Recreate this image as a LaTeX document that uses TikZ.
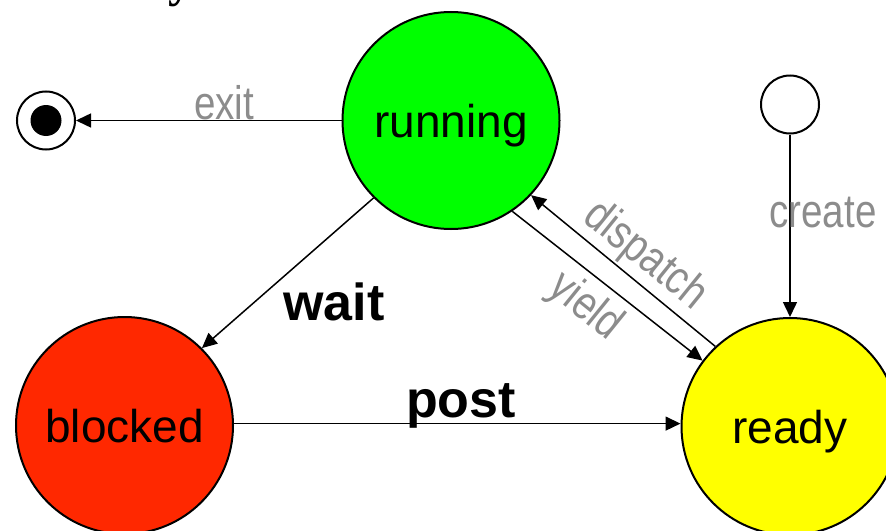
\documentclass[tikz,border=0pt]{standalone}
\usepackage{fontspec}
\usepackage{graphicx}
\setmainfont{Liberation Sans}
\newfontfamily\titlefont{Liberation Serif}
\usetikzlibrary{arrows.meta}

\definecolor{runcol}{RGB}{0,255,0}
\definecolor{blockcol}{RGB}{255,40,0}
\definecolor{readycol}{RGB}{255,255,0}
\definecolor{evgray}{RGB}{140,140,140}

\begin{document}
\begin{tikzpicture}[x=1pt,y=-1pt,
  state/.style={circle,draw=black,line width=2pt,minimum size=217pt,inner sep=0pt,
    text height=33pt,text depth=0pt,font=\fontsize{46}{46}\selectfont},
  pseudo/.style={circle,draw=black,line width=2pt,fill=white,minimum size=58pt,inner sep=0pt},
  trans/.style={line width=1.5pt,-{Triangle[length=15pt,width=14pt]}},
  evlabel/.style={text=evgray,font=\fontsize{47}{47}\selectfont,inner sep=0pt},
  boldlabel/.style={font=\fontsize{52}{52}\selectfont\bfseries,inner sep=0pt},
]
\useasboundingbox (0,0) rectangle (886,530);

% tail of the heading above the diagram
\node[anchor=base west,inner sep=0pt,font=\titlefont\fontsize{48}{48}\selectfont\bfseries]
  (heading) at (168,-3.5) {y};

% states
\node[state,fill=runcol]   (running) at (451,120.5) {running};
\node[state,fill=blockcol] (blocked) at (124.5,425.5) {blocked};
\node[state,fill=readycol] (ready)   at (790,426.5) {ready};

% initial and final pseudo-states
\node[pseudo] (init)  at (790,104.5) {};
\node[pseudo] (final) at (46,120.5) {};
\node[circle,fill=black,minimum size=31pt,inner sep=0pt] (finaldot) at (final) {};

% transitions
\draw[trans] (running.west) -- (final.east);
\draw[trans] (init) -- (ready);
\draw[trans] (running.225) -- (blocked.45);
\draw[trans] (blocked.1.5) -- (blocked.1.5 -| ready.west);
\draw[trans] (running.-56) -- (ready.143);
\draw[trans] (ready.133) -- (running.-43);

% transition labels
\node[evlabel,anchor=base] (lexit)   at (224,119) {\scalebox{0.82}[1]{exit}};
\node[evlabel,anchor=base] (lcreate) at (823,227) {\scalebox{0.82}[1]{create}};
\node[evlabel,rotate=-39]  (lyield)  at (585,307) {\scalebox{0.82}[1]{yield}};
\node[evlabel,rotate=-39]  (ldisp)   at (645,256) {\scalebox{0.82}[1]{dispatch}};
\node[boldlabel,anchor=base] (lwait) at (334,320) {wait};
\node[boldlabel,anchor=base] (lpost) at (461,417) {post};
\end{tikzpicture}
\end{document}
